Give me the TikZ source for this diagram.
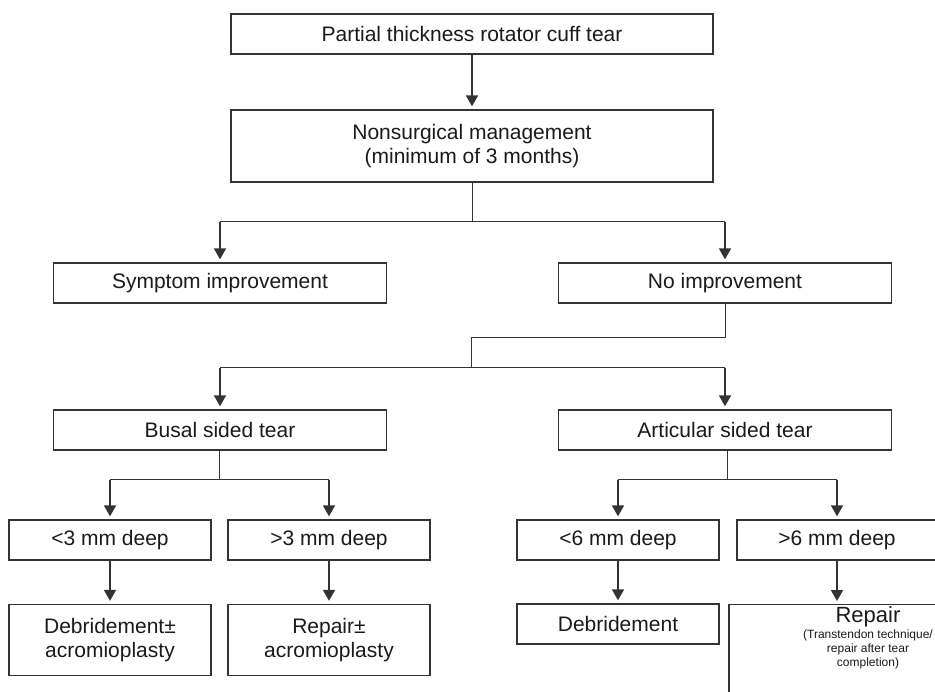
\documentclass[tikz,border=0pt]{standalone}
\usepackage{fontspec}
\setmainfont{Liberation Sans}
\usepackage{xcolor}
\usetikzlibrary{arrows.meta}
\definecolor{linegray}{HTML}{333333}
\definecolor{textgray}{HTML}{1A1A1A}

\begin{document}
\begin{tikzpicture}[x=1pt,y=-1pt]
        \tikzstyle{every node}+=[inner sep=0pt]
        \tikzstyle{box}=[draw=linegray, line width=1.3pt, text=textgray, align=center, font=\fontsize{21}{24}\selectfont]
        \tikzstyle{wire}=[draw=linegray, line width=1pt]
        \tikzstyle{arr}=[draw=linegray, line width=1.7pt, -{Triangle[length=11pt,width=12pt]}, shorten >=3pt]
        \useasboundingbox (0,0) rectangle (935,692);
        \clip (0,0) rectangle (935,692);
        \node [box, minimum width=482pt, minimum height=40pt] (tear) at (472,34) {Partial thickness rotator cuff tear};
        \node [box, minimum width=482pt, minimum height=72pt] (mgmt) at (472,146) {Nonsurgical management\\(minimum of 3 months)};
        \node [box, minimum width=333pt, minimum height=40pt] (symp) at (220,283) {Symptom improvement};
        \node [box, minimum width=333pt, minimum height=40pt] (noimp) at (725,283) {No improvement};
        \node [box, minimum width=333pt, minimum height=40pt] (busal) at (220,430) {Busal sided tear};
        \node [box, minimum width=333pt, minimum height=40pt] (artic) at (725,430) {Articular sided tear};
        \node [box, minimum width=202pt, minimum height=40pt] (lt3) at (110,540) {<3 mm deep};
        \node [box, minimum width=202pt, minimum height=40pt] (gt3) at (329,540) {>3 mm deep};
        \node [box, minimum width=202pt, minimum height=40pt] (lt6) at (618,540) {<6 mm deep};
        \node [box, minimum width=200pt, minimum height=40pt] (gt6) at (837,540) {>6 mm deep};
        \node [box, minimum width=202pt, minimum height=71pt] (deb1) at (110,640) {Debridement±\\acromioplasty};
        \node [box, minimum width=202pt, minimum height=71pt] (rep1) at (329,640) {Repair±\\acromioplasty};
        \node [box, minimum width=202pt, minimum height=40pt] (deb2) at (618,624) {Debridement};
        \node [box, anchor=north, minimum width=278pt] (rep2) at (868,604) {\parbox[c][110pt][t]{170pt}{\centering\vspace*{2pt}%
                {\fontsize{22}{24}\selectfont Repair\par}\vspace{2pt}%
                \fontsize{12}{14}\selectfont (Transtendon technique/\\repair after tear\\completion)}};
        \draw [arr] (tear) -- (mgmt);
        \coordinate (s1) at (472,222);
        \draw [wire] (mgmt) -- (s1);
        \draw [wire] (s1 -| symp) -- (s1 -| noimp);
        \draw [arr] (s1 -| symp) -- (symp);
        \draw [arr] (s1 -| noimp) -- (noimp);
        \coordinate (s2) at (725,338);
        \coordinate (s3) at (471,368);
        \draw [wire] (noimp) -- (s2) -| (s3);
        \draw [wire] (s3 -| busal) -- (s3 -| artic);
        \draw [arr] (s3 -| busal) -- (busal);
        \draw [arr] (s3 -| artic) -- (artic);
        \coordinate (s4) at (219,480);
        \draw [wire] (busal.south -| s4) -- (s4);
        \draw [wire] (s4 -| lt3) -- (s4 -| gt3);
        \draw [arr] (s4 -| lt3) -- (lt3);
        \draw [arr] (s4 -| gt3) -- (gt3);
        \coordinate (s5) at (727,480);
        \draw [wire] (artic.south -| s5) -- (s5);
        \draw [wire] (s5 -| lt6) -- (s5 -| gt6);
        \draw [arr] (s5 -| lt6) -- (lt6);
        \draw [arr] (s5 -| gt6) -- (gt6);
        \draw [arr] (lt3) -- (deb1);
        \draw [arr] (gt3) -- (rep1);
        \draw [arr] (lt6) -- (deb2);
        \draw [arr] (gt6) -- (gt6 |- rep2.north);
\end{tikzpicture}
\end{document}
